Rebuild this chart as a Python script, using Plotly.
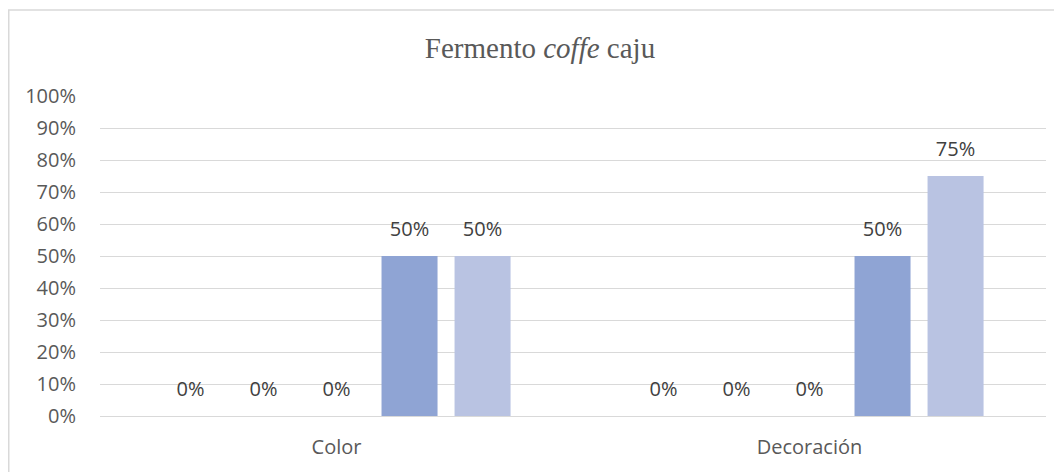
import plotly.graph_objects as go

categories = ["Color", "Decoración"]
series_names = ["S1", "S2", "S3", "S4", "S5"]
series_values = [
    [0.0, 0.0],
    [0.0, 0.0],
    [0.0, 0.0],
    [0.50, 0.50],
    [0.50, 0.75],
]
series_colors = ["#2F4F8F", "#4A6BB0", "#6A88C8", "#8FA4D4", "#B9C3E2"]
y_ticks = [i / 10 for i in range(11)]

W, H = 1054, 464
L, R, T, B = 92, 16, 88, 56

fig = go.Figure()
for name, vals, col in zip(series_names, series_values, series_colors):
    fig.add_trace(go.Bar(
        x=categories, y=vals, name=name, marker=dict(color=col, line=dict(width=0)),
        offsetgroup=name, hoverinfo="skip",
    ))
for name, vals in zip(series_names, series_values):
    fig.add_trace(go.Scatter(
        x=categories, y=vals, mode="markers+text", offsetgroup=name,
        text=[f"{v:.0%}" for v in vals], textposition="top center",
        textfont=dict(family="Open Sans", size=20, color="#404040"),
        marker=dict(size=22, opacity=0), hoverinfo="skip", cliponaxis=False,
    ))

fig.update_layout(
    width=W, height=H,
    margin=dict(l=L, r=R, t=T, b=B),
    paper_bgcolor="white", plot_bgcolor="white",
    barmode="group", bargap=0.228, bargroupgap=0.233,
    scattermode="group", scattergap=0.228,
    showlegend=False,
    title=dict(
        text="Fermento <i>coffe</i> caju",
        font=dict(family="Liberation Serif", size=29, color="#595959"),
        x=532 / W, xanchor="center", xref="container",
        y=1 - 40 / H, yanchor="middle", yref="container",
    ),
    font=dict(family="Open Sans", size=20, color="#595959"),
)
fig.update_xaxes(
    showgrid=False, showline=False, zeroline=False,
    ticks="outside", ticklen=13, tickcolor="rgba(0,0,0,0)",
    tickfont=dict(family="Open Sans", size=20, color="#595959"),
)
fig.update_yaxes(
    range=[0, 1], tickvals=y_ticks, tickformat=".0%",
    showgrid=True, gridcolor="#D9D9D9", gridwidth=1.3,
    zeroline=True, zerolinecolor="#D9D9D9", zerolinewidth=1.3,
    showline=False, ticks="outside", ticklen=19, tickcolor="rgba(0,0,0,0)",
    tickfont=dict(family="Open Sans", size=20, color="#595959"),
)

# outer chart frame (left & top edges visible; rest lies outside the image)
pw, ph = W - L - R, H - T - B
fx0 = (0.75 - L) / pw
fy1 = (H - B - 2.0) / ph
fig.add_shape(type="rect", xref="paper", yref="paper",
              x0=fx0, x1=2.0, y0=-2.0, y1=fy1,
              line=dict(color="#D9D9D9", width=1.5), layer="below")

fig.write_html("out.html")
